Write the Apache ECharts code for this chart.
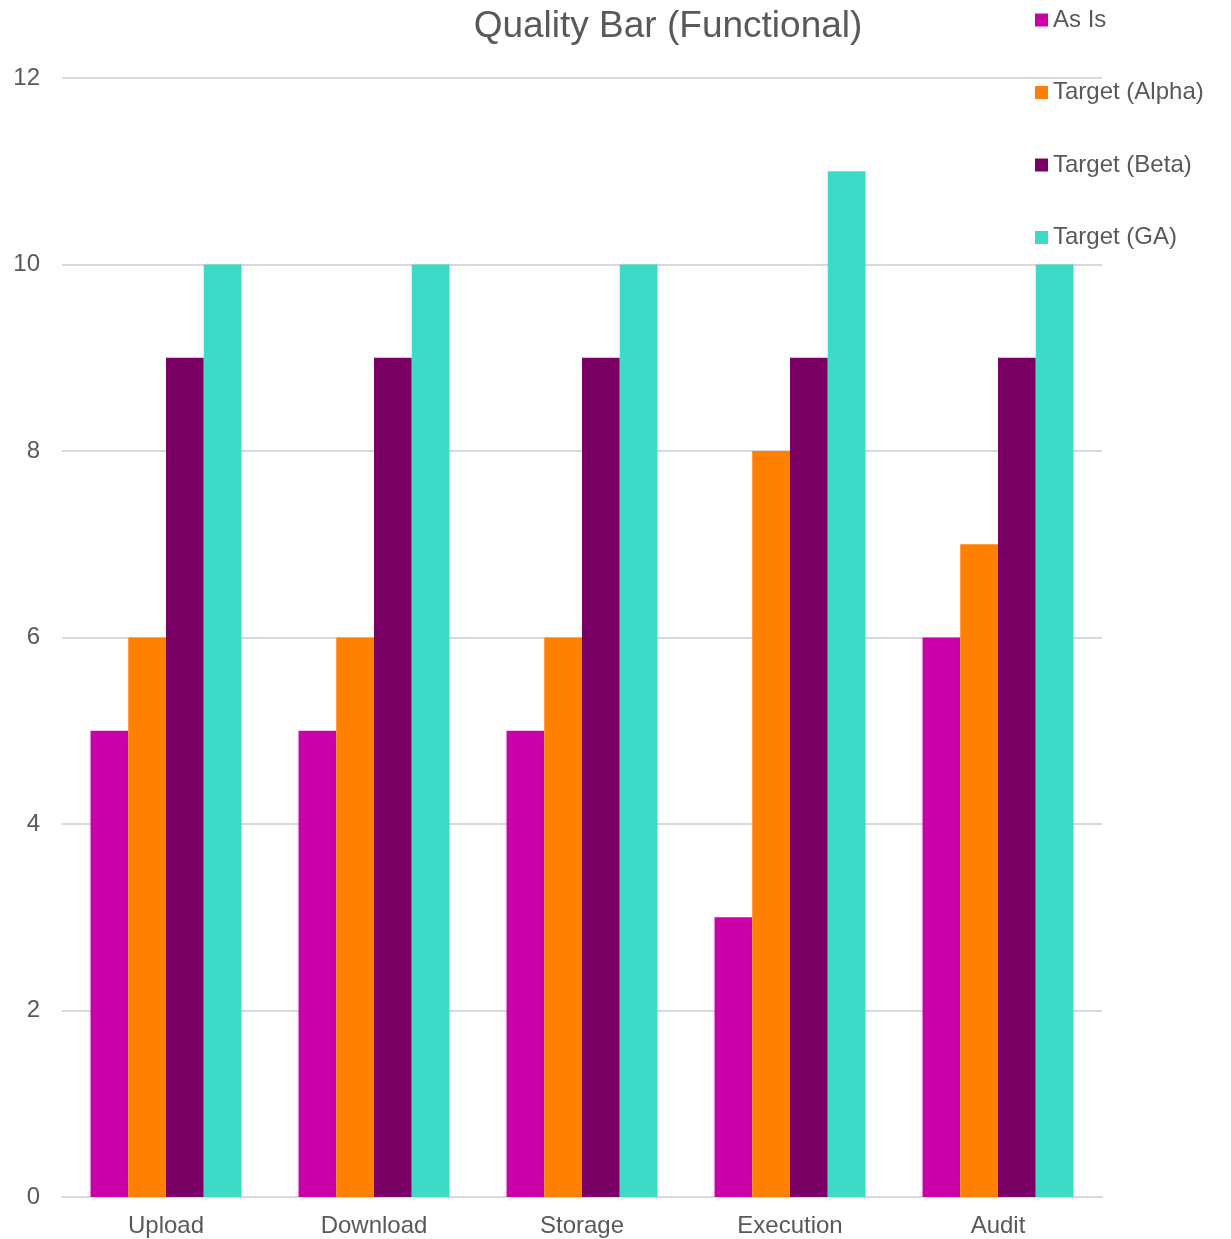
<!DOCTYPE html>
<html>
<head>
<meta charset="utf-8">
<script src="https://cdn.jsdelivr.net/npm/echarts@6/dist/echarts.min.js"></script>
<style>
html,body{margin:0;padding:0;background:#fff;}
#chart{width:1231px;height:1239px;}
</style>
</head>
<body>
<div id="chart"></div>
<script>
const categories = ['Upload', 'Download', 'Storage', 'Execution', 'Audit'];
const seriesNames = ['As Is', 'Target (Alpha)', 'Target (Beta)', 'Target (GA)'];
const asIs = [5, 5, 5, 3, 6];
const targetAlpha = [6, 6, 6, 8, 7];
const targetBeta = [9, 9, 9, 9, 9];
const targetGA = [10, 10, 10, 11, 10];
const colors = ['#CC00AA', '#FF8000', '#7A0066', '#3CDBC8'];
const yTicks = { min: 0, max: 12, interval: 2 };

const values = [asIs, targetAlpha, targetBeta, targetGA];
const chart = echarts.init(document.getElementById('chart'));
const FONT = '"Liberation Sans", Arial, sans-serif';
chart.setOption({
  animation: false,
  color: colors,
  title: {
    text: 'Quality Bar (Functional)',
    left: 668, top: 3,
    textAlign: 'center',
    textStyle: { fontFamily: FONT, fontSize: 37, fontWeight: 'normal', color: '#595959' }
  },
  legend: {
    orient: 'vertical',
    left: 1030, top: 3,
    itemWidth: 13, itemHeight: 13,
    itemGap: 48.5,
    icon: 'rect',
    textStyle: { fontFamily: FONT, fontSize: 24, lineHeight: 24, color: '#595959' },
    data: seriesNames
  },
  grid: { left: 62, right: 129, top: 78, bottom: 42, containLabel: false },
  xAxis: {
    type: 'category',
    data: categories,
    axisLine: { lineStyle: { color: '#d9d9d9', width: 2 } },
    axisTick: { show: false },
    axisLabel: { fontFamily: FONT, fontSize: 24, color: '#595959', margin: 17 }
  },
  yAxis: {
    type: 'value',
    min: yTicks.min, max: yTicks.max, interval: yTicks.interval,
    axisLine: { show: false },
    axisTick: { show: false },
    splitLine: { lineStyle: { color: '#d9d9d9', width: 2 } },
    axisLabel: { fontFamily: FONT, fontSize: 24, color: '#595959', margin: 22 }
  },
  series: seriesNames.map((n, i) => ({
    name: n,
    type: 'bar',
    data: values[i],
    barGap: '0%',
    barCategoryGap: '27.4%',
    itemStyle: { color: colors[i] }
  }))
});
// shift title so its centre matches the reference
chart.setOption({ title: { left: 663 } });
</script>
</body>
</html>
